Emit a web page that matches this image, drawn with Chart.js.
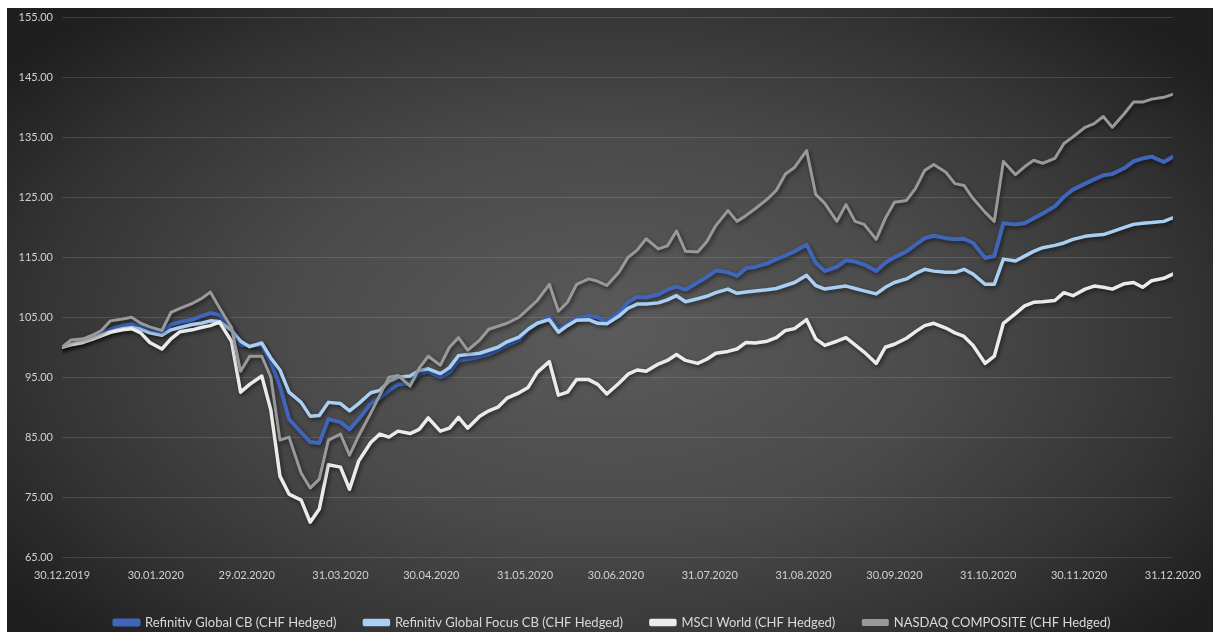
<!DOCTYPE html>
<html>
<head>
<meta charset="utf-8">
<script src="https://cdn.jsdelivr.net/npm/chart.js@4/dist/chart.umd.min.js"></script>
<style>
  html, body { margin: 0; padding: 0; background: #fff; }
  #wrap {
    position: absolute; left: 7px; top: 8px; width: 1206px; height: 624px; overflow: hidden;
    background: radial-gradient(ellipse 62% 70% at 50% 52%, #5b5b5b 0%, #4a4a4a 45%, #333 78%, #1f1f1f 100%);
  }
  #inner { position: absolute; left: 0; top: -6px; width: 1206px; height: 637px; }
</style>
</head>
<body>
<div id="wrap"><div id="inner"><canvas id="perfChart"></canvas></div></div>
<script>
// days since 30.12.2019
const dayOffsets = [0, 3, 7, 10, 13, 16, 20, 23, 26, 29, 33, 36, 39, 43, 46, 49, 52, 56, 59, 62,
  66, 69, 72, 75, 79, 82, 85, 88, 92, 95, 98, 102, 105, 108, 111, 115, 118, 121, 125, 128,
  131, 134, 138, 141, 144, 147, 151, 154, 157, 161, 164, 167, 170, 174, 177, 180, 184, 187, 190, 193,
  197, 200, 203, 206, 210, 213, 216, 220, 223, 226, 229, 233, 236, 239, 242, 246, 249, 252, 256, 259,
  262, 265, 269, 272, 275, 279, 282, 285, 288, 292, 295, 298, 301, 305, 308, 311, 315, 318, 321, 324,
  328, 331, 334, 338, 341, 344, 347, 351, 354, 357, 360, 364, 367];

const globalCB = [100, 100.6, 101.2, 101.9, 102.4, 103.0, 103.6, 103.9, 103.4, 102.7, 102.4, 103.8, 104.2, 104.6, 105.2, 105.7, 105.4, 103.3, 100.4, 100.3,
  100.3, 97.5, 93.5, 88.0, 85.8, 84.2, 84.0, 88.0, 87.5, 86.3, 88.0, 90.6, 91.6, 92.8, 93.8, 94.0, 95.5, 96.0, 95.0, 95.8,
  97.8, 98.0, 98.4, 98.8, 99.5, 100.3, 101.2, 103.0, 104.0, 105.0, 102.9, 103.8, 104.8, 105.2, 105.0, 104.2, 105.8, 107.5, 108.4, 108.3,
  108.8, 109.6, 110.1, 109.6, 110.8, 111.7, 112.8, 112.5, 111.9, 113.2, 113.4, 114.0, 114.7, 115.3, 116.0, 117.1, 114.1, 112.7, 113.4, 114.5,
  114.3, 113.8, 112.7, 114.1, 115.0, 116.0, 117.1, 118.2, 118.6, 118.2, 118.0, 118.1, 117.4, 114.9, 115.2, 120.7, 120.5, 120.7, 121.5, 122.3,
  123.5, 125.1, 126.3, 127.3, 128.0, 128.7, 128.9, 129.9, 131.0, 131.5, 131.8, 130.9, 131.8];

const focusCB = [100, 100.5, 101.0, 101.6, 102.1, 102.6, 103.1, 103.3, 103.0, 102.4, 102.0, 102.9, 103.3, 103.8, 104.0, 104.4, 104.3, 102.8, 101.0, 100.1,
  100.7, 98.2, 96.2, 92.5, 90.8, 88.5, 88.6, 90.8, 90.6, 89.4, 90.6, 92.4, 92.8, 94.3, 95.0, 95.2, 96.1, 96.4, 95.6, 96.6,
  98.6, 98.8, 99.0, 99.5, 100.0, 100.9, 101.7, 103.0, 104.0, 104.6, 102.5, 103.6, 104.5, 104.6, 104.0, 103.9, 105.2, 106.5, 107.2, 107.2,
  107.4, 107.9, 108.6, 107.6, 108.1, 108.5, 109.1, 109.7, 109.0, 109.2, 109.4, 109.6, 109.8, 110.3, 110.8, 112.0, 110.3, 109.7, 110.0, 110.2,
  109.8, 109.4, 108.9, 110.0, 110.8, 111.4, 112.3, 113.0, 112.7, 112.5, 112.5, 113.0, 112.2, 110.5, 110.5, 114.7, 114.4, 115.2, 116.0, 116.6,
  117.0, 117.4, 118.0, 118.5, 118.7, 118.8, 119.3, 120.0, 120.5, 120.7, 120.8, 121.0, 121.6];

const msciWorld = [100, 100.4, 100.8, 101.3, 101.9, 102.5, 102.9, 103.1, 102.4, 100.8, 99.7, 101.4, 102.6, 102.9, 103.3, 103.6, 104.2, 101.0, 92.5, 93.8,
  95.2, 89.5, 78.5, 75.5, 74.5, 70.8, 73.0, 80.4, 80.0, 76.3, 81.0, 84.1, 85.5, 85.0, 86.0, 85.6, 86.3, 88.2, 86.0, 86.5,
  88.3, 86.5, 88.5, 89.4, 90.0, 91.5, 92.4, 93.3, 95.8, 97.6, 92.0, 92.5, 94.6, 94.6, 93.8, 92.2, 94.0, 95.5, 96.2, 96.0,
  97.2, 97.8, 98.8, 97.8, 97.3, 98.0, 99.0, 99.3, 99.7, 100.8, 100.7, 101.0, 101.6, 102.8, 103.1, 104.6, 101.4, 100.3, 101.0, 101.6,
  100.4, 99.2, 97.3, 100.0, 100.5, 101.5, 102.6, 103.6, 104.0, 103.2, 102.4, 101.8, 100.3, 97.3, 98.5, 104.0, 105.6, 106.9, 107.5, 107.6,
  107.8, 109.1, 108.6, 109.7, 110.2, 110.0, 109.7, 110.6, 110.8, 110.0, 111.1, 111.5, 112.2];

const nasdaq = [100, 101.2, 101.4, 102.0, 102.8, 104.4, 104.7, 105.0, 104.0, 103.4, 102.8, 105.8, 106.5, 107.3, 108.1, 109.2, 106.6, 103.3, 96.0, 98.5,
  98.5, 95.0, 84.5, 85.0, 79.0, 76.5, 78.0, 84.5, 85.5, 82.0, 85.2, 89.0, 92.0, 95.0, 95.3, 93.5, 96.5, 98.5, 97.0, 100.0,
  101.6, 99.5, 101.2, 103.0, 103.5, 104.0, 105.0, 106.4, 107.8, 110.5, 106.0, 107.5, 110.5, 111.4, 111.0, 110.3, 112.5, 115.0, 116.2, 118.1,
  116.4, 116.9, 119.4, 116.0, 115.9, 117.6, 120.3, 122.8, 121.0, 122.0, 123.1, 124.7, 126.2, 128.9, 130.0, 132.8, 125.5, 124.0, 121.0, 123.8,
  121.0, 120.5, 118.0, 121.5, 124.2, 124.5, 126.5, 129.5, 130.5, 129.2, 127.3, 127.0, 124.8, 122.5, 121.0, 131.0, 128.8, 130.1, 131.2, 130.7,
  131.5, 134.0, 135.1, 136.7, 137.3, 138.5, 136.7, 139.0, 140.9, 140.9, 141.4, 141.7, 142.2];

const tickDays = [0, 31, 61, 92, 122, 153, 183, 214, 245, 275, 306, 336, 367];
const tickLabels = ['30.12.2019', '30.01.2020', '29.02.2020', '31.03.2020', '30.04.2020', '31.05.2020',
  '30.06.2020', '31.07.2020', '31.08.2020', '30.09.2020', '31.10.2020', '30.11.2020', '31.12.2020'];

const seriesNames = ['Refinitiv Global CB (CHF Hedged)', 'Refinitiv Global Focus CB (CHF Hedged)',
  'MSCI World (CHF Hedged)', 'NASDAQ COMPOSITE (CHF Hedged)'];

function points(values) {
  return dayOffsets.map((d, i) => ({ x: d, y: values[i] }));
}

const lineShadow = {
  id: 'lineShadow',
  beforeDatasetDraw(chart) {
    const c = chart.ctx;
    c.save();
    c.shadowColor = 'rgba(0,0,0,0.55)';
    c.shadowBlur = 4;
    c.shadowOffsetX = 1.5;
    c.shadowOffsetY = 2;
  },
  afterDatasetDraw(chart) {
    chart.ctx.restore();
  }
};

// legend sits a bit right of the canvas centre in the original
const legendShift = {
  id: 'legendShift',
  afterLayout(chart) {
    chart.legend.left += 18;
    chart.legend.right += 18;
  }
};

const canvas = document.getElementById('perfChart');

new Chart(canvas.getContext('2d'), {
  type: 'line',
  data: {
    datasets: [{
      label: seriesNames[0],
      data: points(globalCB),
      borderColor: '#3f66ba',
      backgroundColor: '#3f66ba',
      borderWidth: 4,
      order: 3
    }, {
      label: seriesNames[1],
      data: points(focusCB),
      borderColor: '#a9cff2',
      backgroundColor: '#a9cff2',
      borderWidth: 3.5,
      order: 2
    }, {
      label: seriesNames[2],
      data: points(msciWorld),
      borderColor: '#ebebeb',
      backgroundColor: '#ebebeb',
      borderWidth: 3.5,
      order: 1
    }, {
      label: seriesNames[3],
      data: points(nasdaq),
      borderColor: '#999999',
      backgroundColor: '#999999',
      borderWidth: 3,
      order: 0
    }]
  },
  options: {
    responsive: true,
    maintainAspectRatio: false,
    animation: false,
    layout: {
      padding: { top: 2, right: 31, bottom: 0, left: 0 }
    },
    elements: {
      point: { radius: 0 },
      line: { tension: 0, borderJoinStyle: 'round', borderCapStyle: 'round' }
    },
    plugins: {
      tooltip: { enabled: false },
      legend: {
        display: true,
        position: 'bottom',
        labels: {
          color: '#d9d9d9',
          font: { family: 'Lato', size: 13 },
          boxWidth: 24,
          boxHeight: 4,
          padding: 28,
          sort: (a, b) => a.datasetIndex - b.datasetIndex
        }
      }
    },
    scales: {
      x: {
        type: 'linear',
        min: 0,
        max: 367,
        afterBuildTicks: (scale) => {
          scale.ticks = tickDays.map(v => ({ value: v }));
        },
        afterFit: (scale) => { scale.height = 31; },
        grid: { display: false, drawTicks: false },
        border: { display: false },
        ticks: {
          color: '#d0d0d0',
          font: { family: 'Lato', size: 11 },
          padding: 12,
          autoSkip: false,
          maxRotation: 0,
          callback: (v) => tickLabels[tickDays.indexOf(v)]
        }
      },
      y: {
        min: 65,
        max: 155,
        afterFit: (scale) => { scale.width = 55; },
        grid: { color: 'rgba(255,255,255,0.13)', drawTicks: false },
        border: { display: false },
        ticks: {
          stepSize: 10,
          color: '#d0d0d0',
          font: { family: 'Lato', size: 11 },
          padding: 9,
          callback: (v) => v.toFixed(2)
        }
      }
    }
  },
  plugins: [lineShadow, legendShift]
});
</script>
</body>
</html>
